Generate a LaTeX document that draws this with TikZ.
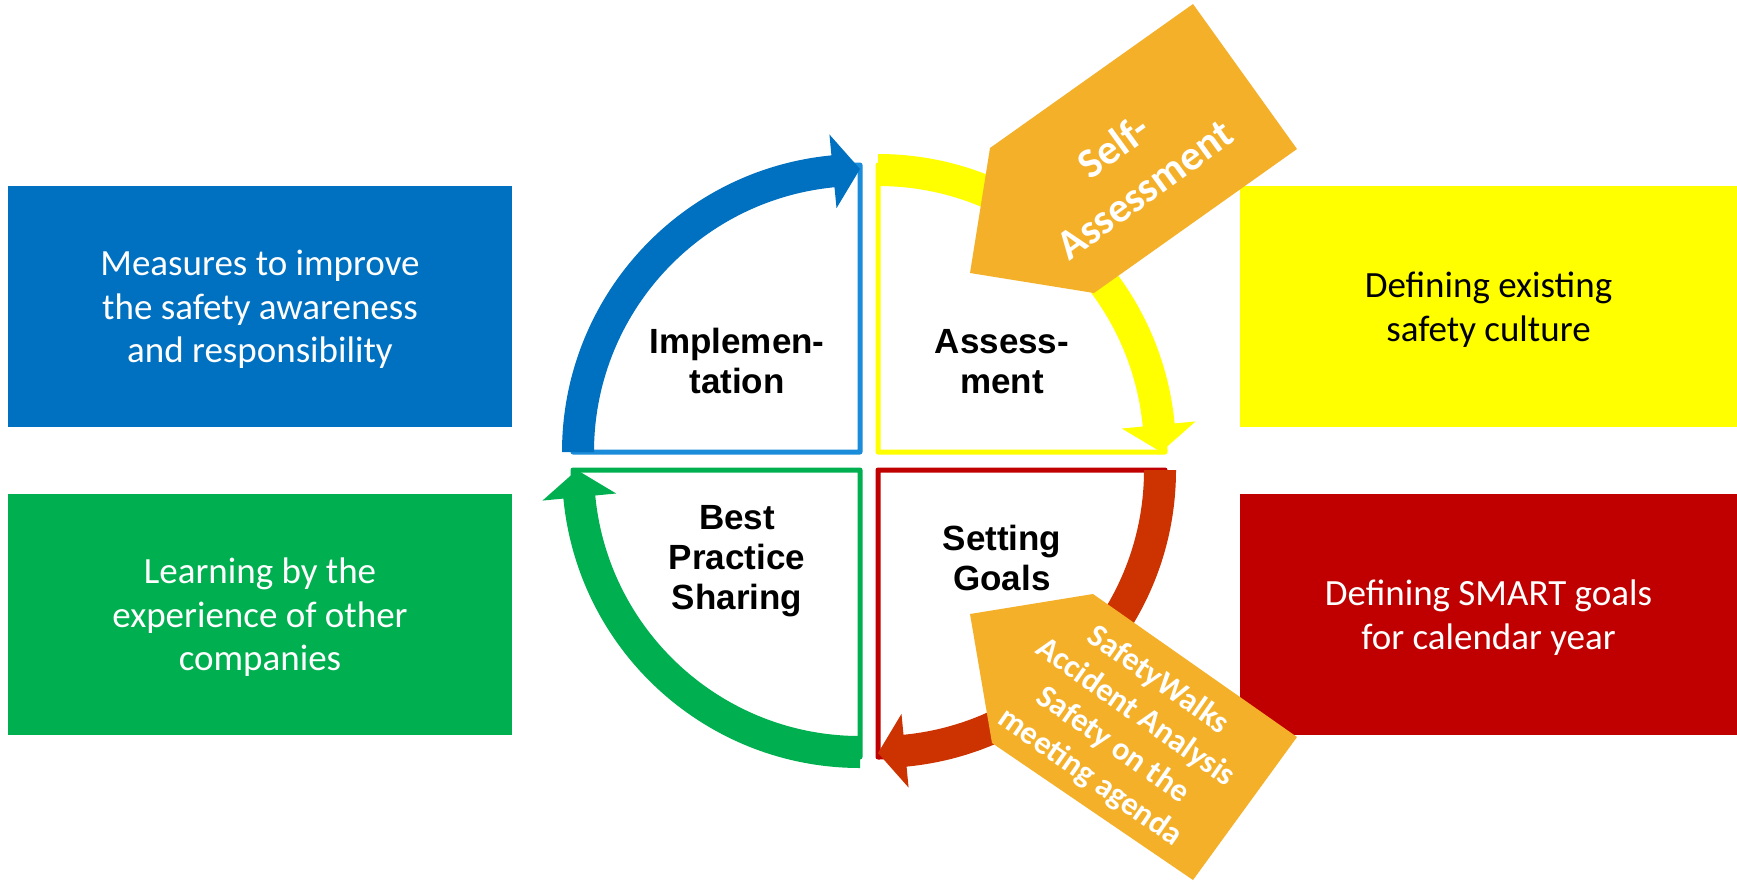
\documentclass[tikz,border=0pt]{standalone}
\usepackage{fontspec}
\setmainfont{Carlito}
\newfontfamily\arialfont{Liberation Sans}
\usetikzlibrary{calc}
\definecolor{boxblue}{HTML}{0070C0}
\definecolor{boxgreen}{HTML}{00B050}
\definecolor{boxyellow}{HTML}{FFFF00}
\definecolor{boxred}{HTML}{C00000}
\definecolor{lineblue}{HTML}{1A8CD9}
\definecolor{arrowred}{HTML}{CC3300}
\definecolor{tagorange}{HTML}{F5B02A}
% #1 centre, #2 start angle (clockwise on the page), #3 colour
\newcommand\cyclearrow[3]{%
  \pgfmathsetmacro\arrEnd{#2+90}%
  \pgfmathsetmacro\arrBack{#2+84.5}%
  \fill[#3] ($(#1)+(#2:298)$) arc[start angle=#2, end angle=\arrBack, radius=298]
    -- ($(#1)+(\arrBack:319)$) -- ($(#1)+(\arrEnd:283)$) -- ($(#1)+(\arrBack:245)$)
    -- ($(#1)+(\arrBack:266)$) arc[start angle=\arrBack, end angle=#2, radius=266] -- cycle;}
\begin{document}
\begin{tikzpicture}[x=1pt,y=-1pt,
  sidebox/.style={inner sep=0pt, minimum width=504pt, minimum height=241pt, align=center,
    text depth=0pt, font=\fontsize{37}{43.5}\selectfont},
  quadline/.style={line width=5pt, line join=round, fill=white},
  quadlabel/.style={inner sep=0pt, align=center, anchor=base, font=\arialfont\bfseries\fontsize{35}{40}\selectfont},
  tagtext/.style={inner sep=0pt, align=center, text=white}]
\useasboundingbox (0,0) rectangle (1737,881);
\fill[white] (0,0) rectangle (1737,881);

% side boxes
\node[sidebox, fill=boxblue, text=white] (measures) at (260,306.5) {Measures to improve\\the safety awareness\\and responsibility};
\node[sidebox, fill=boxgreen, text=white] (learning) at (260,614.5) {Learning by the\\experience of other\\companies};
\node[sidebox, fill=boxyellow, text=black, minimum width=497pt] (existing) at (1488.5,306.5) {Defining existing\\safety culture};
\node[sidebox, fill=boxred, text=white, minimum width=497pt] (smart) at (1488.5,614.5) {Defining SMART goals\\for calendar year};

% quadrant centres
\coordinate (cb) at (860,452);
\coordinate (cy) at (878,452);
\coordinate (cg) at (860,470);
\coordinate (cr) at (878,470);

% quadrant outlines
\draw[quadline, draw=lineblue] (cb) -- ($(cb)+(270:287)$) arc[start angle=270, end angle=180, radius=287] -- cycle;
\draw[quadline, draw=boxyellow] (cy) -- ($(cy)+(360:287)$) arc[start angle=360, end angle=270, radius=287] -- cycle;
\draw[quadline, draw=boxred] (cr) -- ($(cr)+(0:287)$) arc[start angle=0, end angle=90, radius=287] -- cycle;
\draw[quadline, draw=boxgreen] (cg) -- ($(cg)+(90:287)$) arc[start angle=90, end angle=180, radius=287] -- cycle;

% cycle arrows
\cyclearrow{cb}{180}{boxblue}
\cyclearrow{cy}{270}{boxyellow}
\cyclearrow{cr}{0}{arrowred}
\cyclearrow{cg}{90}{boxgreen}

% tags
\fill[tagorange] (1193,4) -- (1297,149) -- (1094,293) -- (970,273) -- (990,148) -- cycle;
\fill[tagorange] (970,614) -- (1093,594) -- (1297,737) -- (1193,880) -- (992,743) -- cycle;
\node[tagtext, rotate=36, font=\bfseries\fontsize{42}{53}\selectfont] (self) at (1128.5,167.5) {Self-\\Assessment};
\node[tagtext, rotate=-35, font=\bfseries\fontsize{32.5}{39.6}\selectfont] (walks) at (1124,729) {SafetyWalks\\Accident Analysis\\Safety on the\\meeting agenda};

% quadrant labels (anchor = baseline of last line)
\node[quadlabel] (impl) at (737,393) {Implemen-\\tation};
\node[quadlabel] (assess) at (1002,393) {Assess-\\ment};
\node[quadlabel] (best) at (737,609) {Best\\Practice\\Sharing};
\node[quadlabel] (goals) at (1002,590) {Setting\\Goals};
\end{tikzpicture}
\end{document}
